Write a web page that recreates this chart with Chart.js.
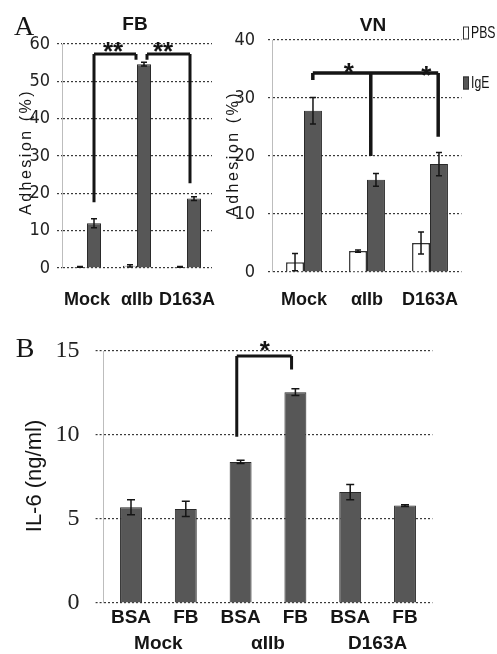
<!DOCTYPE html>
<html>
<head>
<meta charset="utf-8">
<script src="https://cdn.jsdelivr.net/npm/chart.js@4"></script>
<style>
  body { margin: 0; background: #fff; width: 497px; height: 654px; position: relative; overflow: hidden; }
  canvas { position: absolute; }
</style>
</head>
<body>
<canvas id="fbChart" width="250" height="312" style="left:0;top:0"></canvas>
<canvas id="vnChart" width="277" height="312" style="left:220px;top:0"></canvas>
<canvas id="il6Chart" width="497" height="334" style="left:0;top:320px"></canvas>
<script>
// --- data ---
const cellLines = ['Mock', 'αIIb', 'D163A'];

// A, FB adhesion (%)
const fbPbs = [0.3, 0.6, 0.3];
const fbPbsErr = [0.1, 0.3, 0.1];
const fbIgE = [12.0, 54.6, 18.6];
const fbIgEErr = [1.2, 0.5, 0.5];

// A, VN adhesion (%)
const vnPbs = [1.7, 3.6, 5.0];
const vnPbsErr = [1.5, 0.2, 1.9];
const vnIgE = [27.8, 15.9, 18.6];
const vnIgEErr = [2.3, 1.1, 2.0];

// B, IL-6 (ng/ml)
const il6Stimuli = ['BSA', 'FB', 'BSA', 'FB', 'BSA', 'FB'];
const il6Values = [5.7, 5.6, 8.4, 12.55, 6.6, 5.8];
const il6Err = [0.45, 0.45, 0.1, 0.2, 0.45, 0.05];

// significance brackets: legs are [category index, bottom value]
const fbBrackets = [
    { legs: [[0.14, 17.6], [0.98, 55.8]], level: 57.3 },
    { legs: [[1.20, 55.8], [2.06, 22.7]], level: 57.3 }
];
const fbStars = [[0.52, 59.6, '**'], [1.52, 59.6, '**']];
const vnBrackets = [
    { legs: [[0.14, 33.1], [1.06, 20.0], [2.13, 23.3]], level: 34.3 }
];
const vnStars = [[0.71, 35.4, '*'], [1.94, 35.0, '*']];
const il6Brackets = [
    { legs: [[1.93, 9.9], [2.93, 13.9]], level: 14.7 }
];
const il6Stars = [[2.44, 15.4, '*']];

const NARROW = '"Liberation Sans Narrow", "DejaVu Sans Condensed", "Liberation Sans", sans-serif';
const SANS = '"Liberation Sans", Arial, sans-serif';
const SERIF = '"Liberation Serif", "DejaVu Serif", serif';
const BAR_DARK = '#575757';
const INK = '#151515';

// error bars, brackets, free text and legend
const figureExtras = {
    id: 'figureExtras',
    afterDatasetsDraw(chart, args, opts) {
        const ctx = chart.ctx;
        const xs = chart.scales.x;
        const ys = chart.scales.y;

        ctx.save();
        ctx.strokeStyle = INK;
        ctx.lineWidth = 1.5;
        chart.data.datasets.forEach((ds, i) => {
            if (!ds.errors) return;
            chart.getDatasetMeta(i).data.forEach((bar, j) => {
                const v = ds.data[j];
                const e = ds.errors[j];
                const top = ys.getPixelForValue(v + e);
                const bot = ys.getPixelForValue(Math.max(0, v - e));
                const cap = opts.cap || 3;
                ctx.beginPath();
                ctx.moveTo(bar.x, top);
                ctx.lineTo(bar.x, bot);
                ctx.moveTo(bar.x - cap, top);
                ctx.lineTo(bar.x + cap, top);
                ctx.moveTo(bar.x - cap, bot);
                ctx.lineTo(bar.x + cap, bot);
                ctx.stroke();
            });
        });

        ctx.lineWidth = opts.bracketWidth || 3;
        ctx.lineJoin = 'round';
        (opts.brackets || []).forEach(b => {
            const yl = ys.getPixelForValue(b.level);
            const xsPix = b.legs.map(l => xs.getPixelForValue(l[0]));
            ctx.beginPath();
            ctx.moveTo(Math.min(...xsPix), yl);
            ctx.lineTo(Math.max(...xsPix), yl);
            b.legs.forEach((l, k) => {
                ctx.moveTo(xsPix[k], yl);
                ctx.lineTo(xsPix[k], ys.getPixelForValue(l[1]));
            });
            ctx.stroke();
        });

        ctx.fillStyle = INK;
        ctx.font = 'bold ' + (opts.starSize || 26) + 'px ' + SANS;
        ctx.textAlign = 'center';
        ctx.textBaseline = 'alphabetic';
        (opts.stars || []).forEach(s => {
            const px = xs.getPixelForValue(s[0]);
            const py = ys.getPixelForValue(s[1]);
            ctx.fillText(s[2], px, py + 0.56 * (opts.starSize || 26));
        });
        ctx.restore();
    },
    afterDraw(chart, args, opts) {
        const ctx = chart.ctx;
        (opts.texts || []).forEach(t => {
            ctx.save();
            ctx.fillStyle = INK;
            ctx.font = t.font;
            ctx.textAlign = 'center';
            ctx.textBaseline = 'middle';
            if ('letterSpacing' in ctx) ctx.letterSpacing = (t.spacing || 0) + 'px';
            ctx.translate(t.x, t.y);
            if (t.rotate) ctx.rotate(t.rotate);
            ctx.fillText(t.text, 0, 0);
            ctx.restore();
        });

        const lg = opts.legend;
        if (lg) {
            ctx.save();
            ctx.font = lg.font;
            ctx.textAlign = 'left';
            ctx.textBaseline = 'middle';
            chart.data.datasets.forEach((ds, i) => {
                const cy = lg.y[i];
                ctx.fillStyle = ds.backgroundColor;
                ctx.strokeStyle = '#333';
                ctx.lineWidth = 1;
                ctx.fillRect(lg.x, cy - lg.boxH / 2, lg.boxW, lg.boxH);
                ctx.strokeRect(lg.x + 0.5, cy - lg.boxH / 2 + 0.5, lg.boxW - 1, lg.boxH - 1);
                ctx.fillStyle = INK;
                // the scanned legend type is condensed
                ctx.save();
                ctx.translate(lg.x + lg.boxW + 2, cy);
                ctx.scale(lg.squeeze || 1, 1);
                ctx.fillText(ds.label, 0, 0);
                ctx.restore();
            });
            ctx.restore();
        }
    }
};

function adhesionScales(maxY, step, yWidth, xHeight, tickLen, tickPad, xPad) {
    return {
        x: {
            grid: { display: false, drawTicks: false },
            border: { display: false },
            ticks: { padding: xPad, color: INK, autoSkip: false, maxRotation: 0, minRotation: 0,
                     font: { family: SANS, size: 18, weight: 'bold' } },
            afterFit: s => { s.height = xHeight; }
        },
        y: {
            min: 0,
            max: maxY,
            ticks: { stepSize: step, padding: tickPad, color: '#222', font: { family: NARROW, size: 18 } },
            grid: { color: '#3a3a3a', lineWidth: 1.2, tickLength: tickLen, tickColor: '#3a3a3a', tickBorderDash: [2, 2] },
            border: { display: true, color: '#bdbdbd', width: 1, dash: [2, 2] },
            afterFit: s => { s.width = yWidth; }
        }
    };
}

// A: FB
new Chart(document.getElementById('fbChart'), {
    type: 'bar',
    data: {
        labels: cellLines,
        datasets: [
            { label: 'PBS', data: fbPbs, errors: fbPbsErr, backgroundColor: '#ffffff', borderColor: '#333', borderWidth: 1,
              categoryPercentage: 0.56, barPercentage: 1 },
            { label: 'IgE', data: fbIgE, errors: fbIgEErr, backgroundColor: BAR_DARK, borderColor: '#2a2a2a', borderWidth: 1,
              categoryPercentage: 0.56, barPercentage: 1 }
        ]
    },
    options: {
        responsive: false,
        animation: false,
        layout: { padding: { top: 44, right: 38, left: 0, bottom: 0 } },
        scales: adhesionScales(60, 10, 62, 44, 5, 7, 21),
        plugins: {
            legend: { display: false },
            tooltip: { enabled: false },
            figureExtras: {
                cap: 3,
                bracketWidth: 3,
                brackets: fbBrackets,
                stars: fbStars,
                starSize: 26,
                texts: [
                    { text: 'A', x: 24, y: 28, font: '28px ' + SERIF },
                    { text: 'FB', x: 135, y: 25, font: 'bold 19px ' + SANS },
                    { text: 'Adhesion (%)', x: 27, y: 152, font: '16px ' + SANS, spacing: 2.5, rotate: -Math.PI / 2 }
                ]
            }
        }
    },
    plugins: [figureExtras]
});

// A: VN
new Chart(document.getElementById('vnChart'), {
    type: 'bar',
    data: {
        labels: cellLines,
        datasets: [
            { label: 'PBS', data: vnPbs, errors: vnPbsErr, backgroundColor: '#ffffff', borderColor: '#333', borderWidth: 1.5,
              categoryPercentage: 0.57, barPercentage: 1 },
            { label: 'IgE', data: vnIgE, errors: vnIgEErr, backgroundColor: BAR_DARK, borderColor: '#2a2a2a', borderWidth: 1,
              categoryPercentage: 0.57, barPercentage: 1 }
        ]
    },
    options: {
        responsive: false,
        animation: false,
        layout: { padding: { top: 40, right: 35.5, left: 0, bottom: 0 } },
        scales: adhesionScales(40, 10, 52.5, 40, 4.5, 13, 17),
        plugins: {
            legend: { display: false },
            tooltip: { enabled: false },
            figureExtras: {
                cap: 3,
                bracketWidth: 3.5,
                brackets: vnBrackets,
                stars: vnStars,
                starSize: 26,
                texts: [
                    { text: 'VN', x: 153, y: 26, font: 'bold 19px ' + SANS },
                    { text: 'Adhesion (%)', x: 14, y: 154, font: '16px ' + SANS, spacing: 2.5, rotate: -Math.PI / 2 }
                ],
                legend: { x: 243, y: [33, 83], boxW: 6, boxH: 13, font: '17px ' + SANS, squeeze: 0.72 }
            }
        }
    },
    plugins: [figureExtras]
});

// B: IL-6
new Chart(document.getElementById('il6Chart'), {
    type: 'bar',
    data: {
        labels: il6Stimuli,
        datasets: [
            { label: 'IL-6', data: il6Values, errors: il6Err, backgroundColor: BAR_DARK, borderColor: '#2a2a2a', borderWidth: 1,
              categoryPercentage: 0.4, barPercentage: 1 }
        ]
    },
    options: {
        responsive: false,
        animation: false,
        layout: { padding: { top: 31, right: 64.6, left: 0, bottom: 0 } },
        scales: {
            x: {
                weight: 0,
                grid: { display: false, drawTicks: false },
                border: { display: false },
                ticks: { padding: 3, color: INK, maxRotation: 0, font: { family: SANS, size: 19, weight: 'bold' } },
                afterFit: s => { s.height = 26; }
            },
            xGroup: {
                type: 'category',
                position: 'bottom',
                weight: 1,
                labels: cellLines,
                offset: true,
                grid: { display: false, drawTicks: false },
                border: { display: false },
                ticks: { padding: 3, color: INK, maxRotation: 0, font: { family: SANS, size: 19, weight: 'bold' } },
                afterFit: s => { s.height = 25; }
            },
            y: {
                min: 0,
                max: 15,
                ticks: { stepSize: 5, padding: 16, color: '#222', font: { family: SERIF, size: 24 } },
                grid: { color: '#3a3a3a', lineWidth: 1.2, tickLength: 8, tickColor: '#3a3a3a', tickBorderDash: [2, 2] },
                border: { display: true, color: '#bdbdbd', width: 1, dash: [2, 2] },
                afterFit: s => { s.width = 103.6; }
            }
        },
        plugins: {
            legend: { display: false },
            tooltip: { enabled: false },
            figureExtras: {
                cap: 4,
                bracketWidth: 3,
                brackets: il6Brackets,
                stars: il6Stars,
                starSize: 26,
                texts: [
                    { text: 'B', x: 25, y: 30, font: '28px ' + SERIF },
                    { text: 'IL-6 (ng/ml)', x: 35, y: 156, font: '22px ' + SANS, rotate: -Math.PI / 2 }
                ]
            }
        }
    },
    plugins: [figureExtras]
});
</script>
</body>
</html>
